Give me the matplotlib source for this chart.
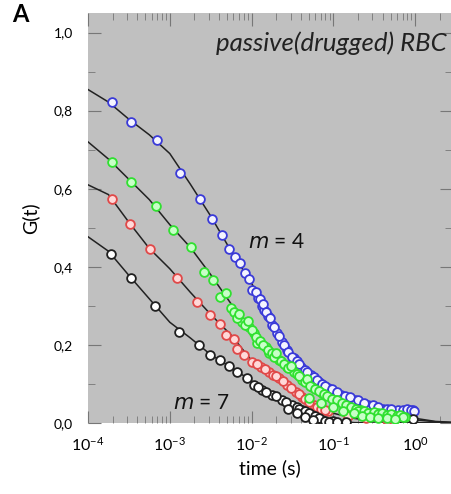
import numpy as np
import matplotlib
matplotlib.use("Agg")
import matplotlib.pyplot as plt
from matplotlib.ticker import FixedLocator, FuncFormatter, LogLocator

plt.rcParams.update({
    "font.family": ["Lato", "DejaVu Sans"],
    "mathtext.default": "regular",
    "axes.unicode_minus": False,
})

# measured data: log10(time) and G(t)
blue_logt = [-3.708, -3.477, -3.162, -2.870, -2.627, -2.481, -2.360, -2.275, -2.202, -2.141,
             -2.080, -2.032, -1.995, -1.922, -1.874, -1.849, -1.801, -1.752, -1.691, -1.631,
             -1.570, -1.485, -1.400, -1.278, -1.181, -1.060, -0.902, -0.732, -0.574, -0.391,
             -0.209, -0.027]
blue_g = [0.823, 0.772, 0.726, 0.641, 0.574, 0.523, 0.482, 0.446, 0.426, 0.410,
          0.385, 0.369, 0.341, 0.321, 0.300, 0.290, 0.274, 0.251, 0.231, 0.208,
          0.187, 0.167, 0.144, 0.123, 0.105, 0.090, 0.072, 0.059, 0.046, 0.036,
          0.033, 0.033]
# denser points at long times
blue_logt_d = [-1.95, -1.90, -1.86, -1.82, -1.78, -1.72, -1.66, -1.60, -1.55, -1.50,
               -1.45, -1.42, -1.35, -1.32, -1.24, -1.20, -1.14, -1.10, -1.02, -0.96,
               -0.86, -0.80, -0.70, -0.62, -0.52, -0.45, -0.35, -0.30, -0.15, -0.10,
               -0.05, -0.01]
blue_g_d = [0.335, 0.318, 0.305, 0.285, 0.268, 0.245, 0.222, 0.200, 0.183, 0.170,
            0.158, 0.150, 0.137, 0.130, 0.118, 0.110, 0.100, 0.095, 0.086, 0.080,
            0.070, 0.066, 0.058, 0.052, 0.045, 0.040, 0.036, 0.035, 0.034, 0.035,
            0.034, 0.030]

green_logt = [-3.708, -3.477, -3.174, -2.955, -2.736, -2.578, -2.469, -2.384, -2.311, -2.250,
              -2.214, -2.117, -2.032, -1.971, -1.934, -1.825, -1.789, -1.667, -1.570, -1.485,
              -1.388, -1.266, -1.145, -0.974, -0.817, -0.659, -0.452, -0.270, -0.124]
green_g = [0.669, 0.618, 0.556, 0.495, 0.451, 0.387, 0.367, 0.323, 0.333, 0.295,
           0.285, 0.259, 0.246, 0.231, 0.205, 0.195, 0.179, 0.162, 0.144, 0.131,
           0.110, 0.092, 0.077, 0.059, 0.041, 0.033, 0.026, 0.021, 0.015]
green_logt_d = [-2.18, -2.15, -2.08, -2.05, -2.00, -1.95, -1.90, -1.86, -1.80, -1.75,
                -1.72, -1.70, -1.64, -1.60, -1.55, -1.52, -1.45, -1.42, -1.35, -1.32,
                -1.28, -1.22, -1.18, -1.12, -1.08, -1.02, -0.95, -0.90, -0.85, -0.78,
                -0.72, -0.70, -0.62, -0.58, -0.50, -0.45, -0.40, -0.35, -0.30, -0.22,
                -0.18, -0.15, -1.30, -1.15, -1.00, -0.88, -0.75, -0.65, -0.55, -0.45,
                -0.35, -0.25]
green_g_d = [0.270, 0.280, 0.250, 0.262, 0.238, 0.220, 0.210, 0.200, 0.188, 0.180,
             0.170, 0.178, 0.160, 0.152, 0.140, 0.145, 0.125, 0.120, 0.105, 0.112,
             0.095, 0.088, 0.083, 0.075, 0.070, 0.062, 0.058, 0.050, 0.046, 0.040,
             0.036, 0.030, 0.030, 0.025, 0.027, 0.022, 0.025, 0.020, 0.022, 0.018,
             0.020, 0.016, 0.065, 0.050, 0.040, 0.032, 0.025, 0.018, 0.015, 0.012,
             0.012, 0.010]

red_logt = [-3.708, -3.490, -3.247, -2.906, -2.663, -2.505, -2.384, -2.311, -2.214, -2.177,
            -2.092, -1.995, -1.886, -1.789, -1.667, -1.570, -1.460, -1.388, -1.242, -1.060,
            -0.817, -0.600, -0.350]
red_g = [0.574, 0.510, 0.446, 0.372, 0.310, 0.277, 0.254, 0.226, 0.215, 0.190,
         0.174, 0.156, 0.144, 0.131, 0.115, 0.097, 0.079, 0.067, 0.045, 0.030,
         0.018, 0.012, 0.008]
red_logt_d = [-1.94, -1.84, -1.74, -1.70, -1.62, -1.52, -1.42, -1.35, -1.30, -1.20,
              -1.15, -1.10]
red_g_d = [0.150, 0.138, 0.124, 0.120, 0.108, 0.090, 0.075, 0.062, 0.055, 0.042,
           0.036, 0.033]

black_logt = [-3.721, -3.477, -3.186, -2.882, -2.639, -2.505, -2.384, -2.275, -2.177, -2.056,
              -1.971, -1.874, -1.752, -1.631, -1.509, -1.388, -1.266, -1.145, -1.000, -0.850,
              -0.027]
black_g = [0.433, 0.372, 0.300, 0.233, 0.200, 0.174, 0.162, 0.146, 0.131, 0.115,
           0.097, 0.085, 0.072, 0.059, 0.046, 0.033, 0.021, 0.008, 0.004, 0.002,
           0.010]
black_logt_d = [-1.92, -1.82, -1.70, -1.58, -1.45, -1.42, -1.35, -1.30, -1.22, -1.18,
                -1.10, -1.05, -0.95, -1.55, -1.45, -1.35, -1.25]
black_g_d = [0.092, 0.080, 0.068, 0.055, 0.040, 0.036, 0.030, 0.025, 0.018, 0.012,
             0.006, 0.003, 0.002, 0.035, 0.025, 0.015, 0.008]

# fitted curves, read at 0.25-decade steps
fit_logt = [-4.0, -3.75, -3.5, -3.25, -3.0, -2.75, -2.5, -2.25, -2.0, -1.75,
            -1.5, -1.25, -1.0, -0.75, -0.5, -0.25, 0.0, 0.25, 0.45]
fit_blue = [0.854, 0.822, 0.778, 0.738, 0.690, 0.612, 0.530, 0.440, 0.358, 0.255,
            0.170, 0.118, 0.085, 0.060, 0.040, 0.025, 0.012, 0.004, 0.002]
fit_green = [0.720, 0.676, 0.624, 0.572, 0.508, 0.450, 0.380, 0.305, 0.240, 0.176,
             0.136, 0.092, 0.062, 0.040, 0.026, 0.016, 0.008, 0.003, 0.001]
fit_red = [0.610, 0.585, 0.514, 0.447, 0.395, 0.335, 0.278, 0.225, 0.160, 0.126,
           0.085, 0.047, 0.025, 0.012, 0.005, 0.002, 0.001, 0.0, 0.0]
fit_black = [0.477, 0.440, 0.378, 0.318, 0.258, 0.218, 0.175, 0.142, 0.108, 0.072,
             0.046, 0.022, 0.006, 0.001, 0.0, 0.0, 0.0, 0.0, 0.0]

y_ticks = [0.0, 0.2, 0.4, 0.6, 0.8, 1.0]

series = [
    (blue_logt + blue_logt_d, blue_g + blue_g_d, fit_blue, "#3a3ad8", "#f4f4ff"),
    (red_logt + red_logt_d, red_g + red_g_d, fit_red, "#e04848", "#ffd8d8"),
    (black_logt + black_logt_d, black_g + black_g_d, fit_black, "#202020", "#ffffff"),
    (green_logt + green_logt_d, green_g + green_g_d, fit_green, "#30e030", "#c8ffc8"),
]

fig = plt.figure(figsize=(4.52, 4.94), dpi=100)
ax = fig.add_axes([88 / 452, 1 - 423 / 494, 1 - 88 / 452, 410 / 494])
ax.set_facecolor("#c0c0c0")

tfit = 10 ** np.array(fit_logt)
for logt, g, fit, ec, fc in series:
    ax.plot(tfit, fit, color="#222222", lw=1.1, zorder=2)
for logt, g, fit, ec, fc in series:
    ax.plot(10 ** np.array(logt), g, "o", ms=6.3, mfc=fc, mec=ec, mew=1.3, zorder=3)

ax.set_xscale("log")
ax.set_xlim(1e-4, 10 ** 0.45)
ax.set_ylim(0, 1.05)

for s in ax.spines.values():
    s.set_visible(False)

ax.yaxis.set_major_locator(FixedLocator(y_ticks))
ax.yaxis.set_minor_locator(FixedLocator([0.1, 0.3, 0.5, 0.7, 0.9]))
ax.yaxis.set_major_formatter(FuncFormatter(lambda v, p: f"{v:.1f}".replace(".", ",")))
ax.xaxis.set_major_locator(LogLocator(base=10, numticks=10))
ax.xaxis.set_minor_locator(LogLocator(base=10, subs=np.arange(2, 10), numticks=10))

ax.tick_params(which="both", direction="in", top=True, right=True, color="#777777")
ax.tick_params(which="major", length=9, width=0.8)
ax.tick_params(which="minor", length=5, width=0.6)
ax.tick_params(axis="y", which="major", labelsize=10, pad=11)
ax.tick_params(axis="x", which="major", labelsize=11.5, pad=9)

ax.set_xlabel("time (s)", fontsize=14, labelpad=4)
ax.set_ylabel("G(t)", fontsize=14, labelpad=10)

ax.text(0.985, 0.955, "passive(drugged) RBC", transform=ax.transAxes, ha="right", va="top",
        fontsize=18.5, style="italic", color="#222222")
ax.text(10 ** -2.04, 0.464, "$\\it{m}$ = 4", fontsize=15, va="center", color="#111111")
ax.text(10 ** -2.96, 0.052, "$\\it{m}$ = 7", fontsize=15, va="center", color="#111111")
fig.text(12 / 452, 1 - 15 / 494, "A", fontsize=17, fontweight="bold", va="center")

fig.savefig("out.png", dpi=100)
